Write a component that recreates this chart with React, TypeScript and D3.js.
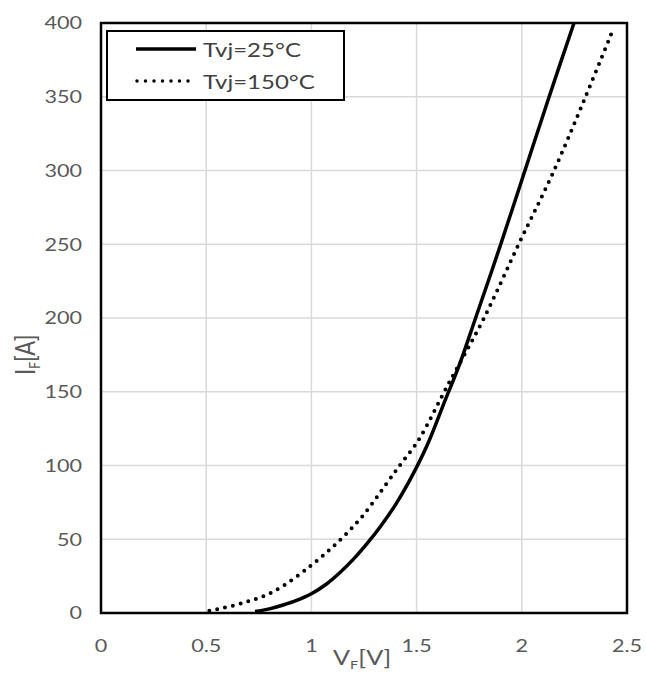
import React from "react";
import * as d3 from "d3";

const W = 646;
const H = 673;

const xTicks = [0, 0.5, 1, 1.5, 2, 2.5];
const yTicks = [0, 50, 100, 150, 200, 250, 300, 350, 400];
const xTickLabels = ["0", "0.5", "1", "1.5", "2", "2.5"];

// Tvj = 25°C  (VF [V], IF [A])
const v25 = [0.732, 0.8, 0.866, 0.93, 1.0, 1.07, 1.136, 1.2, 1.27, 1.33, 1.4, 1.46, 1.548, 1.635, 1.7, 1.778, 1.9, 2.015, 2.13, 2.248];
const i25 = [1, 2.8, 5.4, 8.5, 13, 19.5, 27.5, 36.5, 48, 59, 73.5, 88, 113, 144, 167, 199, 250, 300, 350, 400];

// Tvj = 150°C
const v150 = [0.515, 0.669, 0.819, 1.001, 1.136, 1.247, 1.358, 1.43, 1.508, 1.65, 1.817, 1.985, 2.15, 2.3, 2.435];
const i150 = [1.5, 6.6, 14.4, 32.5, 49.5, 66.4, 87.9, 102, 117, 155, 199, 250, 299, 349, 396];

const seriesNames = ["Tvj=25°C", "Tvj=150°C"];

const FONT = "Lato, 'Open Sans', sans-serif";
const GRAY = "#595959";
const SX = 1.2;

export default function App() {
  const x = d3.scaleLinear().domain([0, 2.5]).range([101, 627]);
  const y = d3.scaleLinear().domain([0, 400]).range([613, 23]);

  const line = d3
    .line<[number, number]>()
    .x((d) => x(d[0]))
    .y((d) => y(d[1]))
    .curve(d3.curveCatmullRom.alpha(0.5));

  const d25 = line(v25.map((v, k) => [v, i25[k]] as [number, number])) || "";
  const d150 = line(v150.map((v, k) => [v, i150[k]] as [number, number])) || "";

  return (
    <div style={{ position: "absolute", left: 0, top: 0 }}>
      <svg width={W} height={H} style={{ display: "block", background: "#fff" }}>
        <rect x={0} y={0} width={W} height={H} fill="#fff" />
        {/* grid */}
        {xTicks.slice(1, -1).map((t) => (
          <line key={"gx" + t} x1={x(t)} x2={x(t)} y1={y(0)} y2={y(400)} stroke="#d9d9d9" strokeWidth={1.5} />
        ))}
        {yTicks.slice(1, -1).map((t) => (
          <line key={"gy" + t} x1={x(0)} x2={x(2.5)} y1={y(t)} y2={y(t)} stroke="#d9d9d9" strokeWidth={1.5} />
        ))}
        {/* curves */}
        <path d={d25} fill="none" stroke="#000" strokeWidth={3.5} />
        <path d={d150} fill="none" stroke="#000" strokeWidth={4} strokeDasharray="0 8" strokeLinecap="round" />
        {/* frame */}
        <rect x={x(0)} y={y(400)} width={x(2.5) - x(0)} height={y(0) - y(400)} fill="none" stroke="#000" strokeWidth={2.5} />
        {/* y tick labels */}
        {yTicks.map((t) => (
          <text
            key={"ty" + t}
            transform={`translate(82,${y(t)}) scale(${SX},1)`}
            dy="0.36em"
            textAnchor="end"
            fontFamily={FONT}
            fontSize={18}
            fill={GRAY}
          >
            {t}
          </text>
        ))}
        {/* x tick labels */}
        {xTicks.map((t, k) => (
          <text
            key={"tx" + t}
            transform={`translate(${x(t)},646) scale(${SX},1)`}
            dy="0.36em"
            textAnchor="middle"
            fontFamily={FONT}
            fontSize={18}
            fill={GRAY}
          >
            {xTickLabels[k]}
          </text>
        ))}
        {/* axis titles */}
        <text transform={`translate(333,665) scale(${SX},1)`} fontFamily={FONT} fontSize={21} fill={GRAY}>
          V<tspan fontSize={12} dy={4}>F</tspan>
          <tspan dy={-4}>[V]</tspan>
        </text>
        <text transform={`translate(35,375) rotate(-90) scale(1,${SX})`} fontFamily={FONT} fontSize={22} fill={GRAY}>
          I<tspan fontSize={12} dy={4}>F</tspan>
          <tspan dy={-4}>[A]</tspan>
        </text>
        {/* legend */}
        <rect x={107} y={31} width={237} height={69} fill="#fff" stroke="#000" strokeWidth={2} />
        <line x1={136} x2={196} y1={49} y2={49} stroke="#000" strokeWidth={3.5} />
        <line x1={137} x2={196} y1={81} y2={81} stroke="#000" strokeWidth={3.5} strokeDasharray="0 8.5" strokeLinecap="round" />
        <text transform={`translate(203,50) scale(${SX},1)`} dy="0.35em" fontFamily={FONT} fontSize={20} fill="#404040">
          {seriesNames[0]}
        </text>
        <text transform={`translate(203,82) scale(${SX},1)`} dy="0.35em" fontFamily={FONT} fontSize={20} fill="#404040">
          {seriesNames[1]}
        </text>
      </svg>
    </div>
  );
}
